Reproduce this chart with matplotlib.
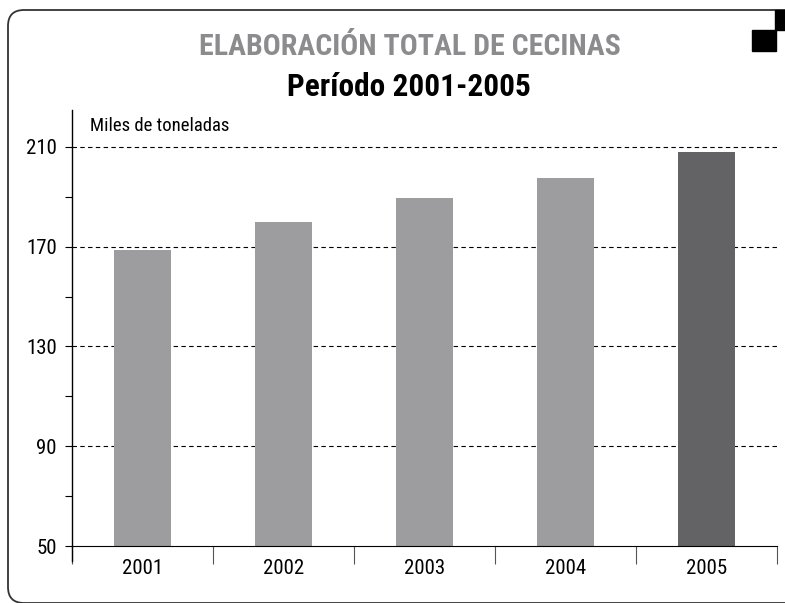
import matplotlib.pyplot as plt
from matplotlib.patches import FancyBboxPatch, Rectangle
from matplotlib.lines import Line2D

years = ['2001', '2002', '2003', '2004', '2005']
values = [168.7, 179.9, 189.5, 197.6, 208.0]
bar_colors = ['#9d9d9f', '#9d9d9f', '#9d9d9f', '#9d9d9f', '#636365']
major_ticks = [50, 90, 130, 170, 210]
minor_ticks = [70, 110, 150, 190]

plt.rcParams['font.family'] = ['Roboto Condensed', 'DejaVu Sans']

W, H = 785, 603
fig = plt.figure(figsize=(W / 100, H / 100), dpi=100)

# rounded frame and corner squares, in pixel coords
frame = FancyBboxPatch((8, 0), 820, H - 10, boxstyle='round,pad=0,rounding_size=16',
                       transform=None, fill=False, edgecolor='#333333', linewidth=1.3)
fig.patches.append(frame)
fig.patches.append(Rectangle((775, H - 30), 12, 20, transform=None, color='black'))
fig.patches.append(Rectangle((752, H - 51), 24, 21, transform=None, color='black'))

fig.text(410 / W, 1 - 47 / H, 'ELABORACIÓN TOTAL DE CECINAS', ha='center', va='center',
         fontsize=21.5, fontweight='bold', color='#8c8c8e')
fig.text(409 / W, 1 - 87 / H, 'Período 2001-2005', ha='center', va='center',
         fontsize=22.5, fontweight='bold', color='black')

ax = fig.add_axes([72 / W, 1 - 546 / H, (777 - 72) / W, (546 - 110) / H])
x = range(len(years))
ax.bar(x, [v - 50 for v in values], bottom=50, width=0.41, color=bar_colors, zorder=2)
ax.set_xlim(-0.5, len(years) - 0.5)
ax.set_ylim(50, 224.8)

for t in major_ticks[1:]:
    ax.axhline(t, color='black', linewidth=0.8, linestyle=(0, (4, 3)), zorder=1)

ax.set_yticks(major_ticks)
ax.set_yticks(minor_ticks, minor=True)
ax.tick_params(axis='y', which='both', direction='out', length=5, width=0.8,
               labelsize=15, pad=6)
ax.set_xticks(list(x))
ax.set_xticklabels(years, fontsize=15)
ax.tick_params(axis='x', which='major', length=0, pad=9)
ax.set_xticks([i - 0.5 for i in range(len(years) + 1)], minor=True)
ax.tick_params(axis='x', which='minor', direction='out', length=13, width=0.8, color='#555555')

for s in ['top', 'right']:
    ax.spines[s].set_visible(False)
ax.spines['bottom'].set_linewidth(0.8)
ax.spines['left'].set_linewidth(1.0)
ax.add_line(Line2D([0, 0], [-0.035, 0], transform=ax.transAxes, color='black',
                   linewidth=1.0, clip_on=False))

ax.text(0.026, 0.985, 'Miles de toneladas', transform=ax.transAxes, fontsize=13.5,
        ha='left', va='top')

fig.savefig('out.png', dpi=100)
